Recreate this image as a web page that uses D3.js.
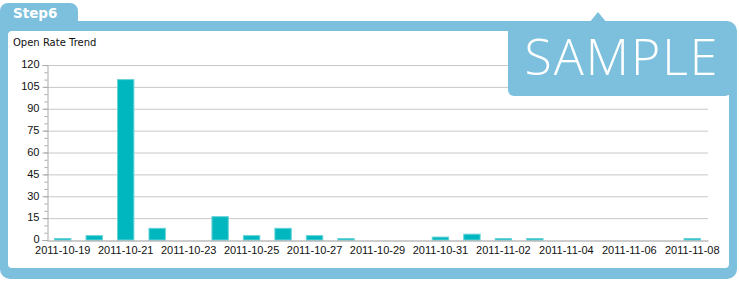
<!DOCTYPE html>
<html>
<head>
<meta charset="utf-8">
<script src="https://cdn.jsdelivr.net/npm/d3@7"></script>
<style>
  html, body { margin: 0; padding: 0; background: #fff; }
  svg { display: block; }
</style>
</head>
<body>
<div id="chart"></div>
<script>
// Open rate per day
const dates = [
  '2011-10-19', '2011-10-20', '2011-10-21', '2011-10-22', '2011-10-23', '2011-10-24',
  '2011-10-25', '2011-10-26', '2011-10-27', '2011-10-28', '2011-10-29', '2011-10-30',
  '2011-10-31', '2011-11-01', '2011-11-02', '2011-11-03', '2011-11-04', '2011-11-05',
  '2011-11-06', '2011-11-07', '2011-11-08'
];
const opens = [1, 3, 110, 8, 0, 16, 3, 8, 3, 1, 0, 0, 2, 4, 1, 1, 0, 0, 0, 0, 1];
const yTicks = [0, 15, 30, 45, 60, 75, 90, 105, 120];

const W = 739, H = 282;
const blue = '#7cc0dd';

const svg = d3.select('#chart').append('svg')
  .attr('width', W).attr('height', H);

// ─── Frame ───
svg.append('rect')
  .attr('x', 0).attr('y', 3).attr('width', 78).attr('height', 30)
  .attr('rx', 8).attr('fill', blue);
svg.append('rect')
  .attr('x', 0).attr('y', 21).attr('width', 737).attr('height', 258)
  .attr('rx', 10).attr('fill', blue);
svg.append('rect')
  .attr('x', 0).attr('y', 21).attr('width', 30).attr('height', 20)
  .attr('fill', blue);
svg.append('rect')
  .attr('x', 8).attr('y', 31).attr('width', 721).attr('height', 237)
  .attr('rx', 4).attr('fill', '#fff');

svg.append('text')
  .attr('x', 13).attr('y', 18)
  .attr('fill', '#fff')
  .attr('font-family', "'DejaVu Sans', Verdana, sans-serif")
  .attr('font-weight', 'bold')
  .attr('font-size', '13.5px')
  .text('Step6');

svg.append('text')
  .attr('x', 13).attr('y', 46)
  .attr('fill', '#111')
  .attr('font-family', "'DejaVu Sans', Verdana, sans-serif")
  .attr('font-size', '10px')
  .text('Open Rate Trend');

// ─── Chart ───
const m = { left: 47, right: 708, top: 65, bottom: 240 };

const x = d3.scaleBand()
  .domain(dates)
  .range([m.left, m.right])
  .paddingInner(0.48)
  .paddingOuter(0.24);

const y = d3.scaleLinear()
  .domain([0, 120])
  .range([m.bottom, m.top]);

const g = svg.append('g');

// grid
g.selectAll('line.grid')
  .data(yTicks.filter(t => t > 0))
  .join('line')
  .attr('class', 'grid')
  .attr('x1', m.left).attr('x2', m.right)
  .attr('y1', d => y(d) + 0.5).attr('y2', d => y(d) + 0.5)
  .attr('stroke', '#c8c8c8');

// minor ticks
g.append('g')
  .attr('transform', `translate(${m.left + 0.5},0)`)
  .call(d3.axisLeft(y).tickValues(d3.range(0, 121, 5)).tickSize(3).tickFormat(''))
  .call(a => a.select('.domain').remove())
  .call(a => a.selectAll('.tick line').attr('stroke', '#aaa'));

// y axis
g.append('g')
  .attr('transform', `translate(${m.left + 0.5},0)`)
  .call(d3.axisLeft(y).tickValues(yTicks).tickSize(5).tickPadding(3))
  .call(a => a.select('.domain').attr('stroke', '#aaa'))
  .call(a => a.selectAll('.tick line').attr('stroke', '#aaa'))
  .call(a => a.selectAll('.tick text')
    .attr('dy', '0.25em')
    .attr('fill', '#111')
    .attr('font-family', "'Liberation Sans', Arial, sans-serif")
    .attr('font-size', '11px'));

// bars
g.selectAll('rect.bar')
  .data(dates)
  .join('rect')
  .attr('class', 'bar')
  .attr('x', d => x(d))
  .attr('width', x.bandwidth())
  .attr('y', (d, i) => y(opens[i]))
  .attr('height', (d, i) => m.bottom - y(opens[i]))
  .attr('fill', '#00b7bf')
  .attr('stroke', '#66d3d8')
  .attr('stroke-width', 1);

// x axis
g.append('g')
  .attr('transform', `translate(0,${m.bottom + 0.5})`)
  .call(d3.axisBottom(x)
    .tickValues(dates.filter((d, i) => i % 2 === 0))
    .tickSize(0).tickPadding(6))
  .call(a => a.select('.domain').attr('stroke', '#999'))
  .call(a => a.selectAll('.tick text')
    .attr('fill', '#111')
    .attr('font-family', "'Liberation Sans', Arial, sans-serif")
    .attr('font-size', '11px'));

// ─── SAMPLE badge ───
svg.append('rect')
  .attr('x', 508).attr('y', 22).attr('width', 223).attr('height', 74)
  .attr('rx', 6).attr('fill', blue);
svg.append('path')
  .attr('d', 'M589,23 L598,12 L607,23 Z')
  .attr('fill', blue);
svg.append('text')
  .attr('x', 622).attr('y', 75)
  .attr('text-anchor', 'middle')
  .attr('fill', '#fff')
  .attr('font-family', "'Open Sans', Lato, sans-serif")
  .attr('font-weight', 300)
  .attr('font-size', '50px')
  .attr('letter-spacing', '2px')
  .text('SAMPLE');
</script>
</body>
</html>
